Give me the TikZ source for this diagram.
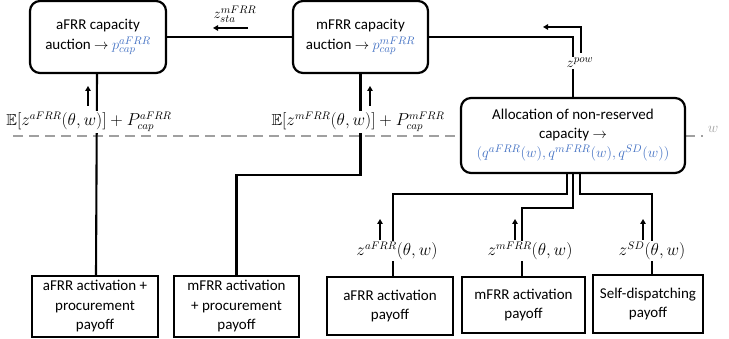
\documentclass[tikz,border=0pt]{standalone}
\usepackage{fontspec}
\setmainfont{Carlito}
\usepackage{amssymb}
\usetikzlibrary{arrows.meta}
\definecolor{myblue}{RGB}{68,114,196}
\definecolor{dashgray}{RGB}{160,160,160}
\begin{document}
\begin{tikzpicture}[x=1pt,y=-1pt,
  rbox/.style={draw,line width=2.2pt,rounded corners=10pt,fill=white,align=center,inner sep=0pt,font=\fontsize{15}{20}\selectfont},
  sbox/.style={draw,line width=2.2pt,fill=white,align=center,inner sep=0pt,font=\fontsize{15}{19.5}\selectfont},
  conn/.style={line width=2.1pt},
  arr/.style={line width=2.1pt,-{Triangle[length=5pt,width=5.5pt]}},
  lab/.style={fill=white,inner sep=1pt,font=\fontsize{16}{18}\selectfont}]
\useasboundingbox (0,0) rectangle (729,339);
% dashed separator
\draw[dashgray,line width=1.8pt,dash pattern=on 10pt off 6pt] (13,136) -- (703,136);
\node[text=dashgray,font=\fontsize{15}{16}\selectfont] (wl) at (713,129) {$w$};
% boxes
\node[rbox,minimum width=136pt,minimum height=72pt] (acap) at (98,37) {aFRR capacity\\auction $\rightarrow$ \textcolor{myblue}{$p^{aFRR}_{cap}$}};
\node[rbox,minimum width=135pt,minimum height=72pt] (mcap) at (360.5,37) {mFRR capacity\\auction $\rightarrow$ \textcolor{myblue}{$p^{mFRR}_{cap}$}};
\node[rbox,minimum width=224pt,minimum height=75pt,font=\fontsize{15}{19}\selectfont] (alloc) at (573,135.5) {Allocation of non-reserved\\capacity $\rightarrow$\\\textcolor{myblue}{$(q^{aFRR}(w),q^{mFRR}(w),q^{SD}(w))$}};
\node[sbox,minimum width=126pt,minimum height=61pt] (b1) at (95,306.5) {aFRR activation +\\procurement\\payoff};
\node[sbox,minimum width=125pt,minimum height=61pt] (b2) at (236.5,306.5) {mFRR activation\\+ procurement\\payoff};
\node[sbox,minimum width=126pt,minimum height=58pt] (b3) at (390,306) {aFRR activation\\payoff};
\node[sbox,minimum width=123pt,minimum height=56pt] (b4) at (523.5,305) {mFRR activation\\payoff};
\node[sbox,minimum width=110pt,minimum height=58pt] (b5) at (648,304) {Self-dispatching\\payoff};
% connectors
\draw[conn] (acap.east) -- (mcap.west);
\draw[conn] (mcap.east) -| (alloc.north);
\draw[conn] ([xshift=-1pt]acap.south) -- ([xshift=1pt]b1.north);
\draw[conn] (mcap.south) -- ++(0,101) -| (b2.north);
\draw[conn] ([xshift=-6pt]alloc.south) -- ++(0,20) -| ([xshift=3pt]b3.north);
\draw[conn] (alloc.south) -- ++(0,34) -| ([xshift=-1.5pt]b4.north);
\draw[conn] ([xshift=7pt]alloc.south) -- ++(0,20) -| ([xshift=4pt]b5.north);
% labels
\node[lab] (l1) at (89,122) {$\mathbb{E}[z^{aFRR}(\theta,w)]+P^{aFRR}_{cap}$};
\node[lab] (l2) at (358,122) {$\mathbb{E}[z^{mFRR}(\theta,w)]+P^{mFRR}_{cap}$};
\node[lab,font=\fontsize{15}{16}\selectfont] (lsta) at (235,14) {$z^{mFRR}_{sta}$};
\node[lab,font=\fontsize{15}{16}\selectfont] (lpow) at (580,63) {$z^{pow}$};
\node[lab] (l3) at (397,251) {$z^{aFRR}(\theta,w)$};
\node[lab] (l4) at (530,251) {$z^{mFRR}(\theta,w)$};
\node[lab] (l5) at (652,251) {$z^{SD}(\theta,w)$};
% small arrows
\coordinate (a1s) at (88,106); \coordinate (a1e) at (88,86);
\coordinate (a2s) at (370,106); \coordinate (a2e) at (370,86);
\coordinate (ass) at (248,28); \coordinate (ase) at (213,28);
\coordinate (aps) at (581,53); \coordinate (ape) at (543,27);
\coordinate (a3s) at (380,240); \coordinate (a3e) at (380,219);
\coordinate (a4s) at (515,240); \coordinate (a4e) at (515,219);
\coordinate (a5s) at (643,240); \coordinate (a5e) at (643,219);
\draw[arr] (a1s) -- (a1e);
\draw[arr] (a2s) -- (a2e);
\draw[arr] (ass) -- (ase);
\draw[arr] (aps) |- (ape);
\draw[arr] (a3s) -- (a3e);
\draw[arr] (a4s) -- (a4e);
\draw[arr] (a5s) -- (a5e);
\end{tikzpicture}
\end{document}
